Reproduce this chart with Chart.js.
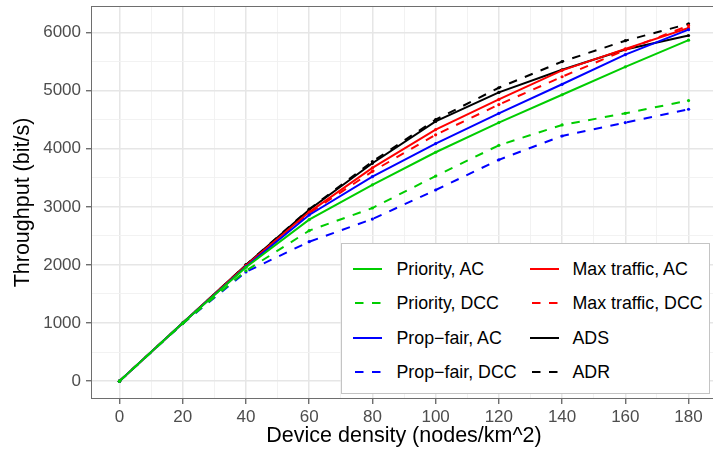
<!DOCTYPE html>
<html><head><meta charset="utf-8">
<script src="https://cdn.jsdelivr.net/npm/chart.js@4"></script>
<style>
html,body{margin:0;padding:0;background:#fff;}
#wrap{position:relative;width:713px;height:451px;overflow:hidden;}
#c{position:absolute;left:0;top:0;}
#legend{position:absolute;left:341px;top:243px;width:369px;height:151px;box-sizing:border-box;border:1.5px solid #c4c4c4;background:#fff;}
.lt{position:absolute;font:17.8px 'Liberation Sans',Arial,sans-serif;color:#000;white-space:nowrap;line-height:20px;}
.ls{position:absolute;}
</style></head>
<body>
<div id="wrap"><canvas id="c" width="721" height="451"></canvas><div id="legend"></div></div>
<script>
// ---- data ----
const densities = [0, 20, 40, 60, 80, 100, 120, 140, 160, 180];
const priorityAC  = [0, 1000, 1960, 2780, 3380, 3940, 4450, 4930, 5410, 5870];
const priorityDCC = [0,  990, 1900, 2590, 2980, 3530, 4060, 4410, 4610, 4830];
const propFairAC  = [0, 1000, 1970, 2860, 3520, 4090, 4610, 5110, 5620, 6050];
const propFairDCC = [0,  990, 1880, 2400, 2790, 3290, 3810, 4220, 4450, 4680];
const maxTrafficAC  = [0, 1000, 1990, 2910, 3670, 4330, 4850, 5350, 5720, 6080];
const maxTrafficDCC = [0, 1000, 1980, 2890, 3610, 4240, 4760, 5240, 5700, 6120];
const ads = [0, 1000, 2000, 2950, 3750, 4470, 4970, 5360, 5710, 5950];
const adr = [0, 1000, 2000, 2960, 3780, 4500, 5050, 5500, 5860, 6150];
const xTicks = [0, 20, 40, 60, 80, 100, 120, 140, 160, 180];
const yTicks = [0, 1000, 2000, 3000, 4000, 5000, 6000];
const seriesNames = ['Priority, AC', 'Priority, DCC', 'Prop\u2212fair, AC', 'Prop\u2212fair, DCC',
                     'Max traffic, AC', 'Max traffic, DCC', 'ADS', 'ADR'];
const seriesValues = [priorityAC, priorityDCC, propFairAC, propFairDCC, maxTrafficAC, maxTrafficDCC, ads, adr];
const seriesColors = ['#00CD00', '#00CD00', '#0000FF', '#0000FF', '#FF0000', '#FF0000', '#000000', '#000000'];
const seriesDashed = [false, true, false, true, false, true, false, true];

// ---- build ----
const DASH = [8.5, 8.5];
const datasets = seriesNames.map((n, i) => ({
  label: n,
  data: densities.map((d, j) => ({x: d, y: seriesValues[i][j]})),
  borderColor: seriesColors[i],
  backgroundColor: seriesColors[i],
  borderWidth: 2,
  borderDash: seriesDashed[i] ? DASH : [],
  pointRadius: 1.6,
  pointBorderWidth: 0,
  pointBackgroundColor: seriesColors[i],
  tension: 0,
  fill: false
}));

const xMinor = [];
for (let v = 0; v <= 180; v += 10) xMinor.push(v);
const yMinor = [];
for (let v = 0; v <= 6000; v += 500) yMinor.push(v);

const yMax = Math.max(...seriesValues.flat());
const yPad = yMax * 0.05;
const xPad = 180 * 0.05;

const panelBorder = {
  id: 'panelBorder',
  afterDraw(chart) {
    const {ctx, chartArea: a} = chart;
    ctx.save();
    ctx.strokeStyle = '#6e6e6e';
    ctx.lineWidth = 1;
    ctx.strokeRect(Math.round(a.left) + 0.5, Math.round(a.top) + 0.5, Math.round(a.right - a.left) - 1, Math.round(a.bottom - a.top) - 1);
    ctx.restore();
  }
};

const tickFont = {family: "'Liberation Sans', Arial, sans-serif", size: 17};
const titleFont = {family: "'Liberation Sans', Arial, sans-serif", size: 21.5};

new Chart(document.getElementById('c'), {
  type: 'line',
  data: {datasets},
  options: {
    responsive: false,
    devicePixelRatio: 1,
    animation: false,
    layout: {padding: {top: 6, right: 1, left: 0, bottom: 0}},
    plugins: {legend: {display: false}, tooltip: {enabled: false}},
    scales: {
      x: {
        type: 'linear',
        min: 0 - xPad, max: 180 + xPad,
        afterFit(s) { s.height = 52; s.paddingLeft = 0; s.paddingRight = 0; },
        afterBuildTicks(axis) { axis.ticks = xMinor.map(v => ({value: v})); },
        ticks: {
          autoSkip: false, maxRotation: 0, padding: 3, color: '#4d4d4d', font: tickFont,
          callback: v => xTicks.includes(v) ? String(v) : ''
        },
        grid: {
          color: c => xTicks.includes(c.tick.value) ? '#e6e6e6' : '#f1f1f1',
          lineWidth: c => xTicks.includes(c.tick.value) ? 1.5 : 0.9,
          tickLength: 5,
          tickColor: c => xTicks.includes(c.tick.value) ? '#555' : 'rgba(0,0,0,0)',
          tickWidth: 1.2
        },
        border: {display: false},
        title: {display: true, text: 'Device density (nodes/km^2)', color: '#000', font: titleFont, padding: {top: 0, bottom: 2}}
      },
      y: {
        type: 'linear',
        min: 0 - yPad, max: yMax + yPad,
        afterFit(s) { s.width = 91; s.paddingTop = 0; s.paddingBottom = 0; },
        afterBuildTicks(axis) { axis.ticks = yMinor.map(v => ({value: v})); },
        ticks: {
          autoSkip: false, padding: 5, color: '#4d4d4d', font: tickFont,
          callback: v => yTicks.includes(v) ? String(v) : ''
        },
        grid: {
          color: c => yTicks.includes(c.tick.value) ? '#e6e6e6' : '#f1f1f1',
          lineWidth: c => yTicks.includes(c.tick.value) ? 1.5 : 0.9,
          tickLength: 5,
          tickColor: c => yTicks.includes(c.tick.value) ? '#555' : 'rgba(0,0,0,0)',
          tickWidth: 1.2
        },
        border: {display: false},
        title: {display: true, text: 'Throughput (bit/s)', color: '#000', font: titleFont, padding: {top: 10, bottom: 0}}
      }
    }
  },
  plugins: [panelBorder]
});

// ---- legend (HTML, two columns, filled column-wise) ----
const leg = document.getElementById('legend');
const L0 = 341, T0 = 243;
const colSample = [353, 530], colText = [397, 573];
const rowY = [269.5, 303.5, 338, 372.5];
seriesNames.forEach((n, i) => {
  const col = Math.floor(i / 4), row = i % 4;
  const svgNS = 'http://www.w3.org/2000/svg';
  const svg = document.createElementNS(svgNS, 'svg');
  svg.setAttribute('class', 'ls');
  svg.setAttribute('width', '30'); svg.setAttribute('height', '6');
  svg.style.left = (colSample[col] - L0 - 1.5) + 'px';
  svg.style.top = (rowY[row] - T0 - 1.5 - 3) + 'px';
  const ln = document.createElementNS(svgNS, 'line');
  ln.setAttribute('x1', '0'); ln.setAttribute('x2', '29');
  ln.setAttribute('y1', '3'); ln.setAttribute('y2', '3');
  ln.setAttribute('stroke', seriesColors[i]); ln.setAttribute('stroke-width', '2');
  if (seriesDashed[i]) { ln.setAttribute('stroke-dasharray', '8.5 8.5'); ln.setAttribute('stroke-dashoffset', '-2'); }
  svg.appendChild(ln);
  leg.appendChild(svg);
  const t = document.createElement('div');
  t.className = 'lt';
  t.textContent = n;
  t.style.left = (colText[col] - L0 - 1.5) + 'px';
  t.style.top = (rowY[row] - T0 - 1.5 - 10) + 'px';
  leg.appendChild(t);
});
</script>
</body></html>
